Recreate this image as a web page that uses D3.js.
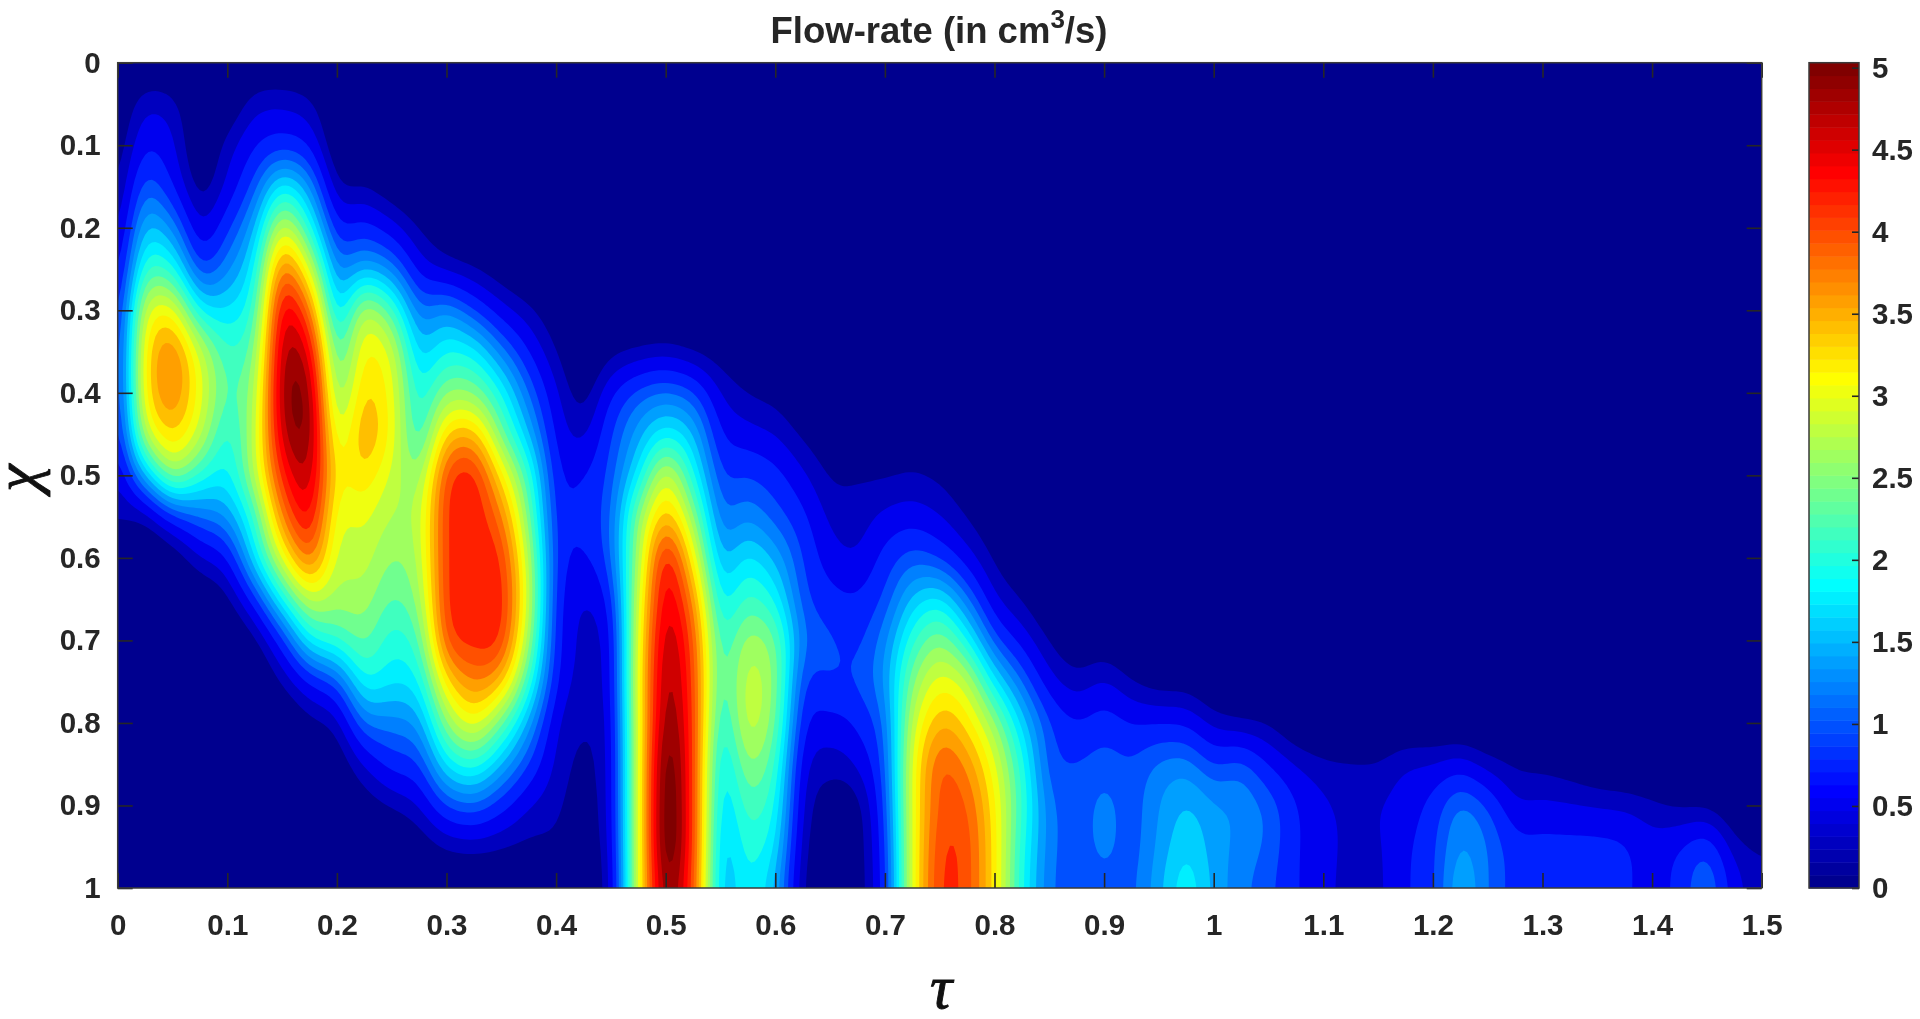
<!DOCTYPE html>
<html>
<head>
<meta charset="utf-8">
<script src="https://cdn.jsdelivr.net/npm/d3@7/dist/d3.min.js"></script>
<style>
html,body{margin:0;padding:0;background:#fff;overflow:hidden}
svg{display:block;filter:blur(0.55px)}
text{font-family:"Liberation Sans",Arial,sans-serif;font-weight:700;fill:#262626}
</style>
</head>
<body>
<svg id="chart" width="1920" height="1019"></svg>
<script>
const tauValues = d3.range(61).map(i => +(i * 0.025).toFixed(3));
const chiValues = d3.range(21).map(i => +(i * 0.05).toFixed(2));
const xTicks = [0,0.1,0.2,0.3,0.4,0.5,0.6,0.7,0.8,0.9,1,1.1,1.2,1.3,1.4,1.5];
const yTicks = [0,0.1,0.2,0.3,0.4,0.5,0.6,0.7,0.8,0.9,1];
const barTicks = [0,0.5,1,1.5,2,2.5,3,3.5,4,4.5,5];
const levelValues = [0,.3,.5,.75,1,1.2,1.4,1.6,1.8,2,2.2,2.4,2.6,2.8,3,3.2,3.4,3.6,3.8,4,4.2,4.4,4.6,4.8,5];
// one list per tau column, chi = 0 ... 1
const flowByTau = [
[0,.05,.15,.25,.4,.6,.8,.9,.9,.8,.5,.3,.15,.05,0,0,0,0,0,0,0],
[0,.45,.7,1.1,1.6,2.15,2.9,3.2,3.2,2.8,1.6,.32,0,0,0,0,0,0,0,0,0],
[0,.38,.55,.75,1.35,2.05,3.1,3.8,3.8,3.4,2.6,.85,.1,0,0,0,0,0,0,0,0],
[0,0,.05,.2,.55,1.05,2.0,2.95,3.1,2.9,2.15,1.2,.45,.05,0,0,0,0,0,0,0],
[0,.05,.4,.55,.95,1.35,1.85,2.25,2.4,2.15,1.95,1.45,.75,.22,0,0,0,0,0,0,0],
[0,.42,.72,1.1,1.6,2.0,2.3,2.6,2.8,2.9,2.85,2.25,1.85,.9,.2,0,0,0,0,0,0],
[0,.48,.85,1.9,2.9,3.85,4.5,4.75,4.85,4.7,4.3,3.8,3.05,2.0,.9,.3,0,0,0,0,0],
[0,.35,.7,1.4,2.1,3.0,3.9,4.55,4.9,4.95,4.75,4.45,3.9,2.85,1.9,.75,.2,0,0,0,0],
[0,0,.05,.35,.85,1.4,1.9,2.4,2.7,3.05,3.3,3.1,2.95,2.7,2.2,1.1,.4,.1,0,0,0],
[0,0,0,.28,.85,1.55,2.8,3.2,3.4,3.6,3.35,3.05,2.9,2.7,2.45,1.95,1.2,.5,.15,0,0],
[0,0,0,.1,.6,1.3,2.3,2.95,3.1,3.15,2.95,2.8,2.6,2.4,2.1,1.85,1.3,.85,.3,0,0],
[0,0,0,0,.28,.65,1.3,1.75,2.1,2.25,2.7,2.9,2.85,2.7,2.4,2.0,1.5,1.0,.5,.12,0],
[0,0,0,0,.1,.4,1.4,2.0,2.6,3.4,4.1,4.2,4.2,4.2,4.05,3.3,2.6,1.85,1.0,.3,0],
[0,0,0,0,0,.28,1.0,1.9,2.55,3.5,4.3,4.35,4.35,4.35,4.3,3.8,3.1,2.1,1.15,.35,0],
[0,0,0,0,0,.12,.6,1.3,2.0,2.5,3.3,3.85,4.2,4.3,4.2,3.5,2.45,1.6,.85,.3,0],
[0,0,0,0,0,0,.35,.75,1.2,1.6,2.2,2.5,2.8,2.9,2.7,2.2,1.5,1.0,.5,.25,0],
[0,0,0,0,0,0,.1,.3,.55,.7,.85,.95,1.0,.95,.9,.8,.55,.45,.35,.25,.15],
[0,0,0,0,0,0,0,0,.2,.45,.75,.85,.72,.5,.45,.42,.32,.27,.2,.15,.1],
[0,0,0,0,0,0,0,.2,.72,.98,1.1,1.2,1.2,.9,.72,.7,.65,.62,.62,.58,.5],
[0,0,0,0,0,0,0,.3,1.1,1.5,1.9,2.6,2.75,2.95,3.05,3.1,3.05,3.05,3.05,3.05,3.05],
[0,0,0,0,0,0,0,.36,1.25,1.9,2.95,3.5,4.35,4.55,4.75,4.85,4.95,5.15,5.2,5.2,4.95],
[0,0,0,0,0,0,0,.25,1.05,1.6,2.05,2.65,3.2,3.75,4.05,4.15,4.2,4.2,4.2,4.2,4.1],
[0,0,0,0,0,0,0,.15,.5,.78,1.05,1.3,1.65,2.0,2.3,2.35,2.2,2.0,1.9,1.8,1.75],
[0,0,0,0,0,0,0,.1,.28,.6,1.0,1.35,1.85,2.25,2.7,2.9,2.9,2.6,2.3,2.1,1.95],
[0,0,0,0,0,0,0,.05,.2,.48,.85,1.1,1.55,1.95,2.45,2.55,2.45,2.2,2.0,1.8,1.55],
[0,0,0,0,0,0,0,0,.05,.25,.55,.82,1.0,1.1,1.3,1.05,.85,.62,.5,.4,.3],
[0,0,0,0,0,0,0,0,0,.1,.28,.45,.62,.85,1.05,1.0,.65,.4,.15,.1,.1],
[0,0,0,0,0,0,0,0,0,.05,.28,.4,.52,.8,.95,1.05,.8,.55,.2,.18,.16],
[0,0,0,0,0,0,0,0,0,.05,.28,.55,.85,1.05,1.35,1.45,1.25,1.15,1.05,.95,.9],
[0,0,0,0,0,0,0,0,0,.1,.32,.62,1.1,1.65,2.15,2.55,2.85,3.05,3.05,3.05,3.05],
[0,0,0,0,0,0,0,0,0,.05,.25,.5,.95,1.85,2.55,3.1,3.55,4.0,4.05,4.15,4.2],
[0,0,0,0,0,0,0,0,0,0,.1,.28,.6,1.25,2.0,2.85,3.3,3.75,4.0,4.1,4.1],
[0,0,0,0,0,0,0,0,0,0,0,.1,.25,.55,1.1,1.9,2.65,3.05,3.25,3.3,3.3],
[0,0,0,0,0,0,0,0,0,0,0,0,.08,.27,.65,1.2,1.75,2.1,2.2,2.1,2.05],
[0,0,0,0,0,0,0,0,0,0,0,0,0,.05,.28,.6,1.05,1.1,1.3,1.3,1.25],
[0,0,0,0,0,0,0,0,0,0,0,0,0,0,.1,.38,.78,1.02,1.08,1.08,1.08],
[0,0,0,0,0,0,0,0,0,0,0,0,0,0,.1,.52,.88,1.1,1.28,1.28,1.1],
[0,0,0,0,0,0,0,0,0,0,0,0,0,0,0,.3,.75,1.05,1.1,1.1,1.15],
[0,0,0,0,0,0,0,0,0,0,0,0,0,0,0,.15,.75,1.25,1.4,1.45,1.55],
[0,0,0,0,0,0,0,0,0,0,0,0,0,0,0,.15,.7,1.3,1.62,1.75,1.95],
[0,0,0,0,0,0,0,0,0,0,0,0,0,0,0,.02,.42,1.0,1.45,1.5,1.55],
[0,0,0,0,0,0,0,0,0,0,0,0,0,0,0,0,.3,1.1,1.35,1.33,1.26],
[0,0,0,0,0,0,0,0,0,0,0,0,0,0,0,0,.25,.75,1.15,1.15,1.05],
[0,0,0,0,0,0,0,0,0,0,0,0,0,0,0,0,.05,.5,.78,.78,.78],
[0,0,0,0,0,0,0,0,0,0,0,0,0,0,0,0,0,.36,.55,.58,.55],
[0,0,0,0,0,0,0,0,0,0,0,0,0,0,0,0,0,.33,.45,.45,.45],
[0,0,0,0,0,0,0,0,0,0,0,0,0,0,0,0,0,.33,.5,.47,.45],
[0,0,0,0,0,0,0,0,0,0,0,0,0,0,0,0,0,.5,.6,.7,.72],
[0,0,0,0,0,0,0,0,0,0,0,0,0,0,0,0,0,.52,.85,.95,.95],
[0,0,0,0,0,0,0,0,0,0,0,0,0,0,0,0,0,.6,1.25,1.4,1.6],
[0,0,0,0,0,0,0,0,0,0,0,0,0,0,0,0,0,.38,1.0,1.2,1.2],
[0,0,0,0,0,0,0,0,0,0,0,0,0,0,0,0,0,.27,.55,.88,.9],
[0,0,0,0,0,0,0,0,0,0,0,0,0,0,0,0,0,.22,.55,.85,.85],
[0,0,0,0,0,0,0,0,0,0,0,0,0,0,0,0,0,.15,.52,.85,.85],
[0,0,0,0,0,0,0,0,0,0,0,0,0,0,0,0,0,.05,.48,.85,.85],
[0,0,0,0,0,0,0,0,0,0,0,0,0,0,0,0,0,0,.45,.8,.8],
[0,0,0,0,0,0,0,0,0,0,0,0,0,0,0,0,0,0,.35,.62,.62],
[0,0,0,0,0,0,0,0,0,0,0,0,0,0,0,0,0,0,.24,.76,.85],
[0,0,0,0,0,0,0,0,0,0,0,0,0,0,0,0,0,0,.2,.95,1.2],
[0,0,0,0,0,0,0,0,0,0,0,0,0,0,0,0,0,0,.05,.4,.65],
[0,0,0,0,0,0,0,0,0,0,0,0,0,0,0,0,0,0,0,.28,.35]
];

const plot = {left:117.7, right:1761.7, top:62.7, bottom:888};
const bar = {left:1809, right:1859};
const cMax = 5.03;

function jet(i){ // MATLAB jet(64)
  const t = (i + 1) / 64;
  const c = v => Math.round(255 * Math.max(0, Math.min(1, v)));
  const r = c(Math.min(4*t - 1.5, -4*t + 4.5));
  const g = c(Math.min(4*t - 0.5, -4*t + 3.5));
  const b = c(Math.min(4*t + 0.5, -4*t + 2.5));
  return `rgb(${r},${g},${b})`;
}
const levelColor = v => jet(Math.min(63, Math.floor(v / cMax * 64)));

// Catmull-Rom display refinement of the table, so the filled contours are smooth
const K = 8;
function cr(p0,p1,p2,p3,t){
  return 0.5*((2*p1)+(-p0+p2)*t+(2*p0-5*p1+4*p2-p3)*t*t+(-p0+3*p1-3*p2+p3)*t*t*t);
}
const nT = tauValues.length, nC = chiValues.length;
const W = (nT-1)*K+1, H = (nC-1)*K+1;
const at = (i,j) => flowByTau[Math.max(0,Math.min(nT-1,i))][Math.max(0,Math.min(nC-1,j))];
const fine = new Float64Array(W*H);
for(let y=0;y<H;y++){
  const j=Math.min(nC-2,Math.floor(y/K)), v=y/K-j;
  for(let x=0;x<W;x++){
    const i=Math.min(nT-2,Math.floor(x/K)), u=x/K-i;
    const rows=[-1,0,1,2].map(d=>cr(at(i-1,j+d),at(i,j+d),at(i+1,j+d),at(i+2,j+d),u));
    fine[x+y*W]=Math.max(0,cr(rows[0],rows[1],rows[2],rows[3],v));
  }
}
d3.blur2({data:fine,width:W,height:H},1.5,3);

const xScale = d3.scaleLinear().domain([0,1.5]).range([plot.left,plot.right]);
const yScale = d3.scaleLinear().domain([0,1]).range([plot.top,plot.bottom]);
const barScale = d3.scaleLinear().domain([0,cMax]).range([plot.bottom,plot.top]);

const svg = d3.select('#chart');
const defs = svg.append('defs');
defs.append('clipPath').attr('id','plotClip').append('rect')
  .attr('x',plot.left).attr('y',plot.top)
  .attr('width',plot.right-plot.left).attr('height',plot.bottom-plot.top);

const contours = d3.contours().size([W,H]).smooth(true).thresholds(levelValues.slice(1))(Array.from(fine));
const projection = d3.geoTransform({point(x,y){
  this.stream.point(xScale((x-0.5)/K*0.025), yScale((y-0.5)/K*0.05));
}});
const path = d3.geoPath(projection);

const field = svg.append('g').attr('clip-path','url(#plotClip)');
field.append('rect').attr('x',plot.left).attr('y',plot.top)
  .attr('width',plot.right-plot.left).attr('height',plot.bottom-plot.top)
  .attr('fill',levelColor(0));
field.selectAll('path').data(contours).join('path')
  .attr('d',path).attr('fill',d=>levelColor(d.value));

// colour bar
const barBands = d3.range(64);
svg.append('g').selectAll('rect').data(barBands).join('rect')
  .attr('x',bar.left).attr('width',bar.right-bar.left)
  .attr('y',i=>barScale((i+1)/64*cMax))
  .attr('height',i=>barScale(i/64*cMax)-barScale((i+1)/64*cMax)+0.5)
  .attr('fill',i=>jet(i));

const inkColor = '#262626';
function style(g, fs){
  g.selectAll('.tick line').attr('stroke',inkColor).attr('stroke-width',1.6);
  g.selectAll('.domain').remove();
  g.selectAll('text').attr('font-size',fs).attr('fill',inkColor)
    .attr('font-family','"Liberation Sans",Arial,sans-serif').attr('font-weight',700);
}
const tickFmt = d => String(d);
const fs = 29.5;
style(svg.append('g').attr('transform',`translate(0,${plot.bottom})`)
  .call(d3.axisBottom(xScale).tickValues(xTicks).tickFormat(tickFmt).tickSizeInner(-15).tickPadding(26)),fs);
style(svg.append('g').attr('transform',`translate(${plot.left},0)`)
  .call(d3.axisLeft(yScale).tickValues(yTicks).tickFormat(tickFmt).tickSizeInner(-15).tickPadding(17)),fs);
style(svg.append('g').attr('transform',`translate(0,${plot.top})`)
  .call(d3.axisTop(xScale).tickValues(xTicks).tickFormat('').tickSizeInner(-15)),fs);
style(svg.append('g').attr('transform',`translate(${plot.right},0)`)
  .call(d3.axisRight(yScale).tickValues(yTicks).tickFormat('').tickSizeInner(-15)),fs);
style(svg.append('g').attr('transform',`translate(${bar.right},0)`)
  .call(d3.axisRight(barScale).tickValues(barTicks).tickFormat(tickFmt).tickSizeInner(-7).tickPadding(13)),fs);

// frames
[[plot.left,plot.right],[bar.left,bar.right]].forEach(([a,b])=>{
  svg.append('rect').attr('x',a).attr('y',plot.top).attr('width',b-a).attr('height',plot.bottom-plot.top)
    .attr('fill','none').attr('stroke','#3a3a3a').attr('stroke-width',1.5);
});

// title
const title = svg.append('text').attr('x',939).attr('y',43).attr('text-anchor','middle')
  .attr('font-size',36.5).attr('fill','#1a1a1a');
title.append('tspan').text('Flow-rate (in cm');
title.append('tspan').text('3').attr('font-size',26).attr('dy',-15);
title.append('tspan').text('/s)').attr('dy',15);

// axis symbols
svg.append('text').attr('x',941).attr('y',1008).attr('text-anchor','middle')
  .style('font-family','"Liberation Serif",serif').style('font-style','italic').style('font-weight',400)
  .style('fill','#111').style('stroke','#111').style('stroke-width',0.9)
  .attr('font-size',62).text('τ');
svg.append('text').attr('transform','translate(37,478) rotate(-90)').attr('text-anchor','middle')
  .style('font-family','"Liberation Serif",serif').style('font-style','italic').style('font-weight',400)
  .style('fill','#111').style('stroke','#111').style('stroke-width',0.9)
  .attr('font-size',62).text('χ');
</script>
</body>
</html>
